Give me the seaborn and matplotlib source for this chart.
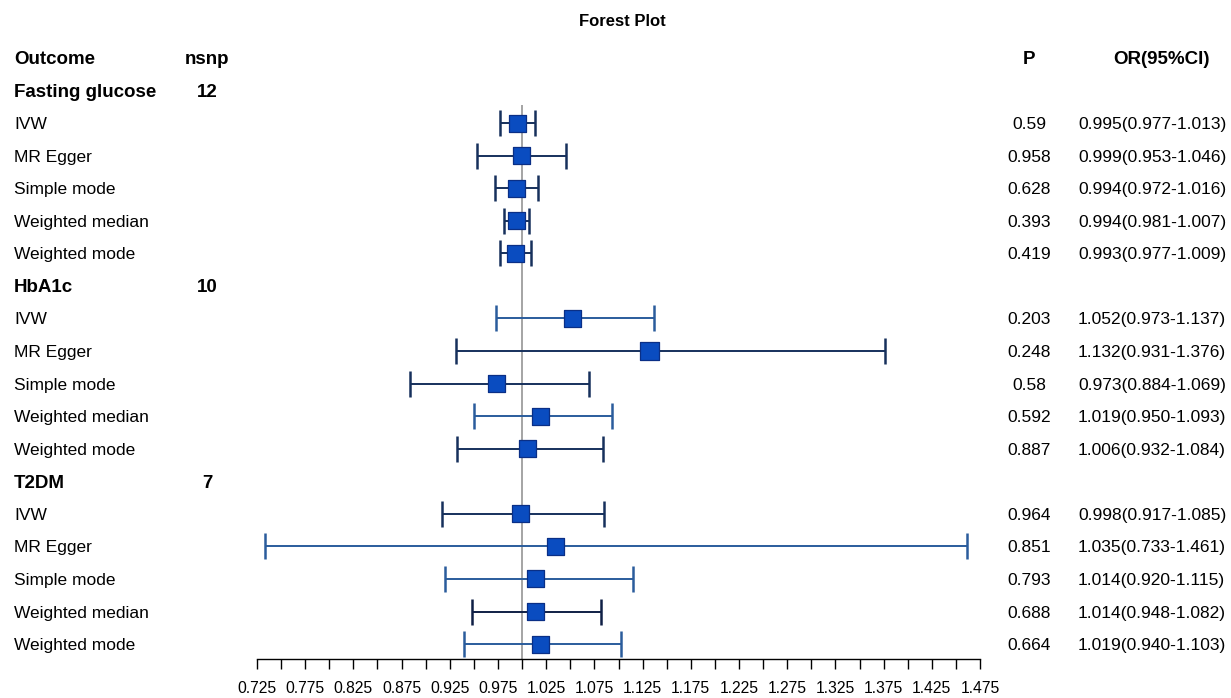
import numpy as np
import pandas as pd
import matplotlib
matplotlib.use("Agg")
import matplotlib.pyplot as plt
import matplotlib.transforms as mtransforms
import seaborn as sns

# data
groups = ["Fasting glucose", "HbA1c", "T2DM"]
nsnp = [12, 10, 7]
methods = ["IVW", "MR Egger", "Simple mode", "Weighted median", "Weighted mode"]

or_fg = [0.995, 0.999, 0.994, 0.994, 0.993]
lo_fg = [0.977, 0.953, 0.972, 0.981, 0.977]
hi_fg = [1.013, 1.046, 1.016, 1.007, 1.009]
p_fg = ["0.59", "0.958", "0.628", "0.393", "0.419"]

or_hb = [1.052, 1.132, 0.973, 1.019, 1.006]
lo_hb = [0.973, 0.931, 0.884, 0.950, 0.932]
hi_hb = [1.137, 1.376, 1.069, 1.093, 1.084]
p_hb = ["0.203", "0.248", "0.58", "0.592", "0.887"]

or_t2 = [0.998, 1.035, 1.014, 1.014, 1.019]
lo_t2 = [0.917, 0.733, 0.920, 0.948, 0.940]
hi_t2 = [1.085, 1.461, 1.115, 1.082, 1.103]
p_t2 = ["0.964", "0.851", "0.793", "0.688", "0.664"]

# build a long table
rows = []
for g, (orv, lo, hi, pv) in enumerate([(or_fg, lo_fg, hi_fg, p_fg),
                                       (or_hb, lo_hb, hi_hb, p_hb),
                                       (or_t2, lo_t2, hi_t2, p_t2)]):
    for i, m in enumerate(methods):
        rows.append({"group": groups[g], "method": m, "row": 2 + 6 * g + i,
                     "OR": orv[i], "lo": lo[i], "hi": hi[i], "p": pv[i]})
df = pd.DataFrame(rows)

# whisker colours per row (navy / blue), style only
NAVY = "#16305c"
BLUE = "#2a5c9c"
line_cols = [NAVY] * 5 + [BLUE, NAVY, NAVY, BLUE, NAVY] + [NAVY, BLUE, BLUE, "#0f1f45", BLUE]
box_sizes = [150] * 5 + [150, 180, 150, 150, 150] + [150] * 5

sns.set_theme(style="white")
plt.rcParams["font.family"] = ["Liberation Sans", "DejaVu Sans"]
plt.rcParams["text.color"] = "black"
plt.rcParams["xtick.color"] = "black"
plt.rcParams["xtick.labelcolor"] = "black"

fig = plt.figure(figsize=(12.31, 6.98), dpi=100)
W, H = 1231, 698
x0, x1 = 257, 980
ytop_px, ybot_px = 40, 659
ax = fig.add_axes([x0 / W, 1 - ybot_px / H, (x1 - x0) / W, (ybot_px - ytop_px) / H])

row_h = 32.56
ax.set_xlim(0.725, 1.475)
ax.set_ylim((ybot_px - 58) / row_h, (ytop_px - 58) / row_h)

# reference line
ax.vlines(1.0, (105 - 58) / row_h, (ybot_px - 58) / row_h, color="#8c8c8c", lw=1.1, zorder=1)

for k, r in df.iterrows():
    ax.errorbar(r["OR"], r["row"],
                xerr=[[r["OR"] - r["lo"]], [r["hi"] - r["OR"]]],
                fmt="none", ecolor=line_cols[k], elinewidth=1.4,
                capsize=9.7, capthick=1.8, zorder=2, clip_on=False)

sns.scatterplot(data=df, x="OR", y="row", marker="s", s=box_sizes,
                color="#0a4cc0", edgecolor="#0a2f86", linewidth=0.9,
                zorder=3, ax=ax, legend=False, clip_on=False)

# axis styling
for side in ["top", "left", "right"]:
    ax.spines[side].set_visible(False)
ax.spines["bottom"].set_color("black")
ax.spines["bottom"].set_linewidth(1.0)
major = np.round(np.arange(0.725, 1.4751, 0.05), 3)
minor = np.round(np.arange(0.75, 1.4751, 0.05), 3)
ax.set_xticks(major)
ax.set_xticks(minor, minor=True)
ax.set_xticklabels([f"{v:.3f}" for v in major], fontsize=11.3)
ax.tick_params(axis="x", which="both", direction="out", length=7, width=1,
               color="black", labelcolor="black", bottom=True, pad=9)
ax.set_yticks([])
ax.set_xlabel("")
ax.set_ylabel("")
ax.patch.set_alpha(0)

# text columns
tr = mtransforms.blended_transform_factory(fig.transFigure, ax.transData)
fx = lambda px: px / W

ax.text(fx(14), 0, "Outcome", transform=tr, fontsize=13.5, fontweight="bold", va="center_baseline", clip_on=False)
ax.text(fx(207), 0, "nsnp", transform=tr, fontsize=13.5, fontweight="bold", va="center_baseline", ha="center", clip_on=False)
ax.text(fx(1029), 0, "P", transform=tr, fontsize=13.5, fontweight="bold", va="center_baseline", ha="center", clip_on=False)
ax.text(fx(1162), 0, "OR(95%CI)", transform=tr, fontsize=13.5, fontweight="bold", va="center_baseline", ha="center", clip_on=False)

for g, name in enumerate(groups):
    yy = 1 + 6 * g
    ax.text(fx(14), yy, name, transform=tr, fontsize=13.5, fontweight="bold", va="center_baseline", clip_on=False)
    ax.text(fx(207), yy, str(nsnp[g]), transform=tr, fontsize=13.5, fontweight="bold", va="center_baseline", ha="center", clip_on=False)

for _, r in df.iterrows():
    ax.text(fx(14), r["row"], r["method"], transform=tr, fontsize=12.5, va="center_baseline", clip_on=False)
    ax.text(fx(1029), r["row"], r["p"], transform=tr, fontsize=12.5, va="center_baseline", ha="center", clip_on=False)
    ax.text(fx(1078), r["row"], f"{r['OR']:.3f}({r['lo']:.3f}-{r['hi']:.3f})", transform=tr,
            fontsize=12.5, va="center_baseline", ha="left", clip_on=False)

fig.text(fx(622), 1 - 22 / H, "Forest Plot", fontsize=12, fontweight="bold", ha="center", va="center")

fig.savefig("out.png", dpi=100)
